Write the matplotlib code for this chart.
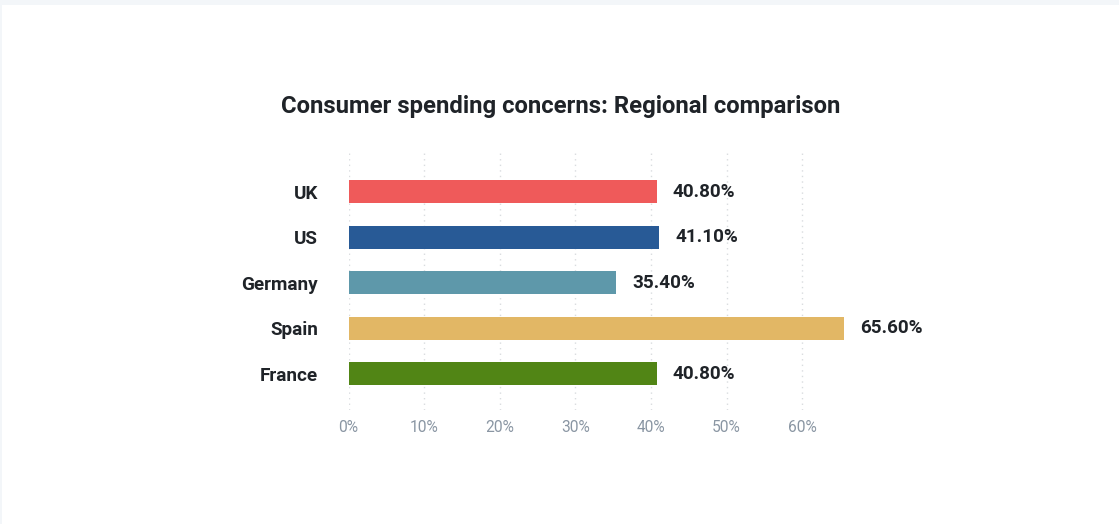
import matplotlib
matplotlib.use("Agg")
import matplotlib.pyplot as plt
from matplotlib.patches import Rectangle

plt.rcParams['font.family'] = ['Roboto', 'DejaVu Sans']

categories = ["UK", "US", "Germany", "Spain", "France"]
values = [40.8, 41.1, 35.4, 65.6, 40.8]
colors = ["#ef5a5a", "#285a96", "#5e98aa", "#e2b765", "#518515"]
ticks = [0, 10, 20, 30, 40, 50, 60]
tick_labels = ["0%", "10%", "20%", "30%", "40%", "50%", "60%"]
title = "Consumer spending concerns: Regional comparison"

W, H = 1119, 524
fig = plt.figure(figsize=(W / 100, H / 100), dpi=100)
fig.patch.set_facecolor("#f3f6f9")
# white card behind the chart
fig.patches.append(Rectangle((2 / W, 0), 1 - 2 / W, 1 - 5 / H, transform=fig.transFigure,
                             facecolor="white", edgecolor="none", zorder=-10))

left_px, right_px = 348.5, 877.7
top_px, bottom_px = 150, 410
ax = fig.add_axes([left_px / W, 1 - bottom_px / H, (right_px - left_px) / W, (bottom_px - top_px) / H])
ax.set_facecolor("none")
ax.set_zorder(5)

ypos = list(range(len(categories)))
ax.barh(ypos, values, height=0.5, color=colors, zorder=2)
ax.set_xlim(0, 70)
ax.set_ylim(4.8, -0.92)

for x in ticks:
    ax.axvline(x, color="#d9dcdf", linestyle=(0, (1, 3)), linewidth=1, zorder=1)

for y, v in zip(ypos, values):
    ax.text(v + 2.1, y, f"{v:.2f}%", va="center", ha="left", fontsize=13.6,
            fontweight="bold", color="#1f2328", clip_on=False)

ax.set_yticks(ypos)
ax.set_yticklabels(categories, fontsize=13.6, fontweight="bold", color="#1f2328")
ax.tick_params(axis="y", length=0, pad=22)
ax.set_xticks(ticks)
ax.set_xticklabels(tick_labels, fontsize=11.2, color="#8a96a3")
ax.tick_params(axis="x", length=0, pad=7)
for s in ax.spines.values():
    s.set_visible(False)

fig.text(560.5 / W, 1 - 106 / H, title, ha="center", va="center", fontsize=17.2,
         fontweight="bold", color="#1f2328")

fig.savefig("out.png", dpi=100)
